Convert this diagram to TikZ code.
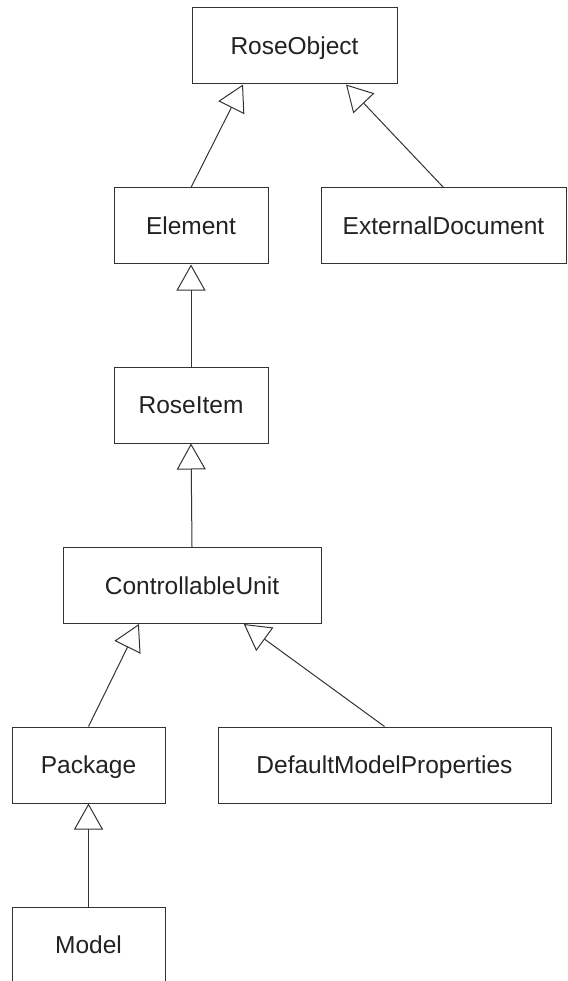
\documentclass[tikz,border=0pt]{standalone}
\usepackage{fontspec}
\setmainfont{Liberation Sans}
\usetikzlibrary{
  arrows.meta,
  calc
}
\definecolor{umLine}{HTML}{333333}
\definecolor{umText}{HTML}{222222}
\tikzset{
  umclass/.style={
    draw=umLine, line width=1pt, fill=white, inner sep=0pt,
    minimum height=76pt, text height=17.5pt, text depth=0pt,
    font=\fontsize{24.5}{28}\selectfont, text=umText
  },
  inherit/.style={-{Triangle[open, length=26pt, width=29pt, line width=1pt]}, line width=1pt, umLine}
}

\begin{document}
\begin{tikzpicture}[x=1pt, y=-1pt]
  \useasboundingbox (0,0) rectangle (567,981);
  \node[umclass, minimum width=205pt] (ro) at (294.5,46) {RoseObject};
  \node[umclass, minimum width=154pt] (el) at (191,226) {Element};
  \node[umclass, minimum width=245pt] (ed) at (443.5,226) {ExternalDocument};
  \node[umclass, minimum width=154pt] (ri) at (191,405) {RoseItem};
  \node[umclass, minimum width=258pt] (cu) at (192,585.5) {ControllableUnit};
  \node[umclass, minimum width=153pt] (pk) at (88.5,765) {Package};
  \node[umclass, minimum width=333pt] (dmp) at (384.5,765) {DefaultModelProperties};
  \node[umclass, minimum width=153pt] (md) at (88.5,945) {Model};
  \draw[inherit] (el.north) -- ($(ro.south west)!0.25!(ro.south east)$);
  \draw[inherit] (ed.north) -- ($(ro.south west)!0.75!(ro.south east)$);
  \draw[inherit] (ri.north) -- (el.south);
  \draw[inherit] (cu.north) -- (ri.south);
  \draw[inherit] (pk.north) -- ($(cu.south west)!0.295!(cu.south east)$);
  \draw[inherit] (dmp.north) -- ($(cu.south west)!0.7!(cu.south east)$);
  \draw[inherit] (md.north) -- (pk.south);
\end{tikzpicture}
\end{document}
